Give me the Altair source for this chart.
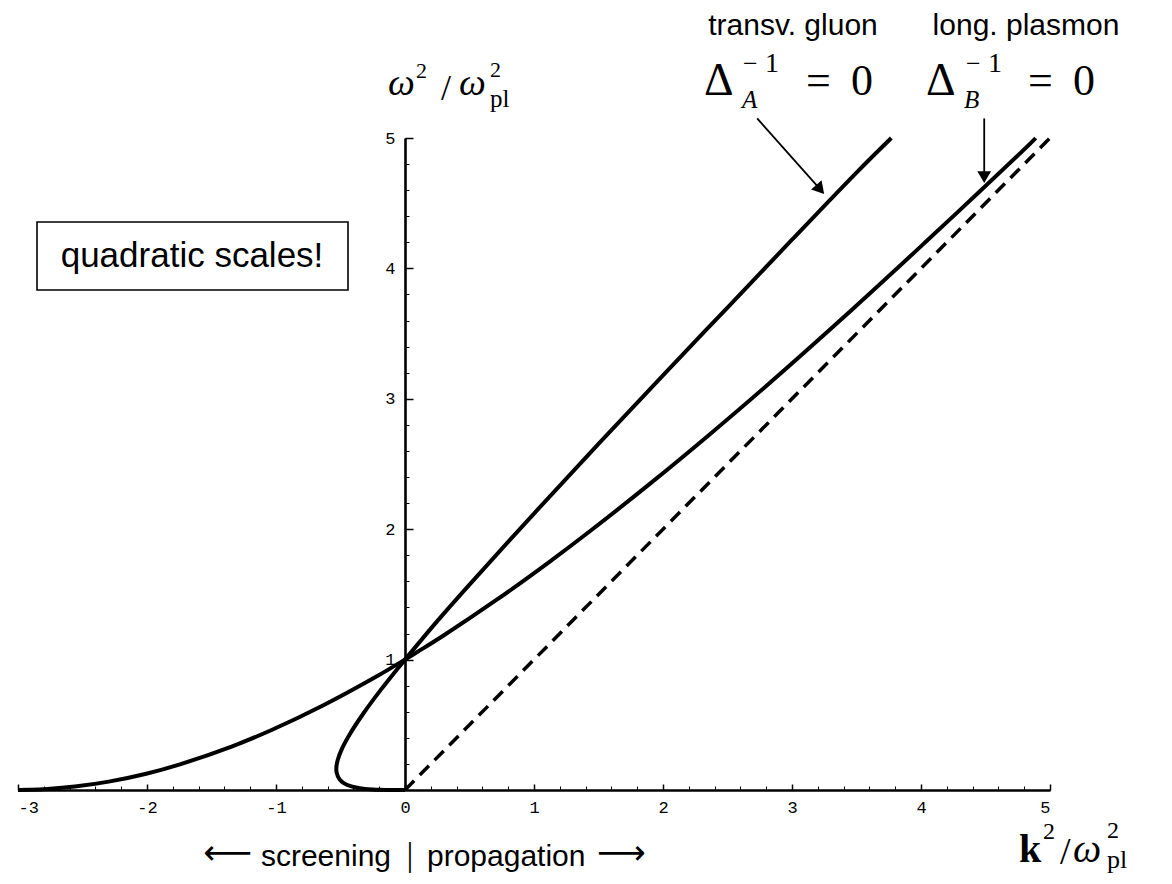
import altair as alt
import pandas as pd

# ---------------- data ----------------
# transverse gluon branch  (Delta_A^-1 = 0), in drawing order
trans_x = [0.0, -0.057, -0.110, -0.206, -0.248, -0.311, -0.354, -0.409, -0.475, -0.507,
           -0.530, -0.532, -0.521, -0.490, -0.428, -0.327, -0.191, -0.058, 0.0, 0.25,
           0.5, 1.0, 1.5, 2.0, 2.5, 3.0, 3.5, 3.77]
trans_y = [0.0, 0.0, 0.0003, 0.002, 0.0039, 0.0086, 0.0142, 0.0256, 0.053, 0.081,
           0.133, 0.174, 0.232, 0.314, 0.428, 0.581, 0.764, 0.930, 1.0, 1.295,
           1.575, 2.12, 2.655, 3.18, 3.70, 4.22, 4.735, 5.0]
# longitudinal plasmon branch (Delta_B^-1 = 0)
long_x = [-3.0, -2.907, -2.772, -2.559, -2.297, -2.006, -1.751, -1.339, -1.034, -0.644,
          -0.218, 0.0, 0.095, 0.296, 0.717, 1.120, 1.433, 1.907, 2.350, 2.785,
          3.471, 4.033, 4.440, 4.870, 4.889]
long_y = [0.0, 0.001, 0.007, 0.026, 0.064, 0.125, 0.195, 0.335, 0.460, 0.644,
          0.872, 1.0, 1.058, 1.183, 1.463, 1.750, 1.984, 2.355, 2.717, 3.085,
          3.689, 4.200, 4.576, 4.980, 5.0]
# light cone (dashed)
cone_x = [0.0, 5.0]
cone_y = [0.0, 5.0]

x_tick_values = [-3, -2, -1, 0, 1, 2, 3, 4, 5]
y_tick_values = [1, 2, 3, 4, 5]
x_minor_values = [round(-3 + 0.2 * i, 1) for i in range(41)]
y_minor_values = [round(0.2 * i, 1) for i in range(26)]

# annotation arrows (data coordinates): tail, head centre
arrowA_x = [2.73, 3.219]
arrowA_y = [5.15, 4.606]
arrowB_x = [4.49, 4.49]
arrowB_y = [5.15, 4.70]

# ---------------- layout ----------------
W, H = 1032, 652
X0, Y0 = 18, 138          # page position of the plot's top-left corner
ZX = 405 - X0             # pixel of x = 0 inside the plot

xs = alt.Scale(domain=[-3, 5], nice=False, zero=False)
ys = alt.Scale(domain=[0, 5], nice=False, zero=False)

def df_xy(xv, yv):
    return pd.DataFrame({"x": xv, "y": yv, "o": list(range(len(xv)))})

lab_x_axis = alt.Axis(orient="bottom", values=x_tick_values, domain=False, ticks=False,
                      tickSize=0, grid=False, title="", labelFont="Liberation Mono",
                      labelFontSize=17, labelColor="black", labelPadding=9,
                      labelExpr="datum.value < 0 ? '-' + abs(datum.value) : '' + datum.value")
lab_y_axis = alt.Axis(orient="left", offset=-ZX, values=y_tick_values, domain=False,
                      ticks=False, tickSize=0, grid=False, title="",
                      labelFont="Liberation Mono", labelFontSize=17, labelColor="black",
                      labelPadding=10)
maj_x_axis = alt.Axis(orient="top", offset=-H, values=x_tick_values, domain=True,
                      domainColor="black", domainWidth=2.6, ticks=True, tickSize=6,
                      tickWidth=1.5, tickColor="black", labels=False, grid=False, title="")
maj_y_axis = alt.Axis(orient="right", offset=ZX - W, values=y_tick_values, domain=True,
                      domainColor="black", domainWidth=2.6, ticks=True, tickSize=8,
                      tickWidth=1.5, tickColor="black", labels=False, grid=False, title="")
min_x_axis = alt.Axis(orient="top", offset=-H, values=x_minor_values, domain=False,
                      ticks=True, tickSize=4, tickWidth=1, tickColor="black",
                      labels=False, grid=False, title="")
min_y_axis = alt.Axis(orient="right", offset=ZX - W, values=y_minor_values, domain=False,
                      ticks=True, tickSize=4, tickWidth=1, tickColor="black",
                      labels=False, grid=False, title="")

cone = alt.Chart(df_xy(cone_x, cone_y)).mark_line(
    color="black", strokeWidth=3.5, strokeDash=[13, 8], clip=False
).encode(x=alt.X("x:Q", scale=xs, axis=lab_x_axis),
         y=alt.Y("y:Q", scale=ys, axis=lab_y_axis),
         order="o:Q")

trans = alt.Chart(df_xy(trans_x, trans_y)).mark_line(
    color="black", strokeWidth=4, interpolate="catmull-rom", clip=False
).encode(x=alt.X("x:Q", scale=xs, axis=maj_x_axis),
         y=alt.Y("y:Q", scale=ys, axis=maj_y_axis),
         order="o:Q")

longi = alt.Chart(df_xy(long_x, long_y)).mark_line(
    color="black", strokeWidth=4, interpolate="catmull-rom", clip=False
).encode(x=alt.X("x:Q", scale=xs, axis=min_x_axis),
         y=alt.Y("y:Q", scale=ys, axis=min_y_axis),
         order="o:Q")

def arrow(xv, yv, ang):
    shaft = alt.Chart(df_xy(xv, yv)).mark_line(color="black", strokeWidth=1.8, clip=False).encode(
        x=alt.X("x:Q", scale=xs, axis=None), y=alt.Y("y:Q", scale=ys, axis=None), order="o:Q")
    head = alt.Chart(df_xy(xv[-1:], yv[-1:])).mark_point(
        shape="triangle-down", filled=True, color="black", opacity=1, size=190,
        angle=ang, clip=False
    ).encode(x=alt.X("x:Q", scale=xs, axis=None), y=alt.Y("y:Q", scale=ys, axis=None))
    return [shaft, head]

def txt(s, px, py, size, font="Liberation Sans", style="normal", weight="normal",
        align="left", baseline="alphabetic"):
    return alt.Chart(pd.DataFrame({"t": [s]})).mark_text(
        align=align, baseline=baseline, font=font, fontSize=size, fontStyle=style,
        fontWeight=weight, color="black"
    ).encode(x=alt.value(px - X0), y=alt.value(py - Y0), text="t:N")

box = alt.Chart(pd.DataFrame({"a": [0]})).mark_rect(
    fill="white", stroke="black", strokeWidth=1.6
).encode(x=alt.value(37 - X0), x2=alt.value(348 - X0),
         y=alt.value(222 - Y0), y2=alt.value(290 - Y0))

serif = "Liberation Serif"
arrows_font = "DejaVu Sans"
texts = [
    box,
    txt("quadratic scales!", 192, 267, 35, align="center"),
    # y title  omega^2 / omega_pl^2
    txt("ω", 388, 95, 38, font=serif, style="italic"),
    txt("2", 416, 78, 22, font=serif),
    txt("/", 441, 100, 36, font=serif),
    txt("ω", 459, 95, 38, font=serif, style="italic"),
    txt("2", 490, 77, 22, font=serif),
    txt("pl", 490, 107, 25, font=serif),
    # x title  k^2 / omega_pl^2
    txt("k", 1019, 862, 40, font=serif, weight="bold"),
    txt("2", 1043, 839, 24, font=serif),
    txt("/", 1060, 864, 38, font=serif),
    txt("ω", 1073, 862, 40, font=serif, style="italic"),
    txt("2", 1107, 838, 24, font=serif),
    txt("pl", 1107, 868, 26, font=serif),
    # bottom caption
    txt("⟵", 252, 864, 34, font=arrows_font, align="right"),
    txt("screening", 391, 866, 30, align="right"),
    txt("|", 410, 866, 34, font=serif, align="center"),
    txt("propagation", 427, 866, 30),
    txt("⟶", 597, 864, 34, font=arrows_font),
    # top-right labels
    txt("transv. gluon", 793, 35, 30, align="center"),
    txt("long. plasmon", 1026, 35, 30, align="center"),
    # Delta_A^-1 = 0
    txt("Δ", 704, 95, 46, font=serif),
    txt("−", 743, 72, 26, font=serif),
    txt("1", 765, 72, 28, font=serif),
    txt("A", 742, 108, 25, font=serif, style="italic"),
    txt("=", 806, 95, 44, font=serif),
    txt("0", 851, 95, 44, font=serif),
    # Delta_B^-1 = 0
    txt("Δ", 926, 95, 46, font=serif),
    txt("−", 966, 72, 26, font=serif),
    txt("1", 988, 72, 28, font=serif),
    txt("B", 964, 108, 25, font=serif, style="italic"),
    txt("=", 1028, 95, 44, font=serif),
    txt("0", 1073, 95, 44, font=serif),
]

layers = [cone, trans, longi] + arrow(arrowA_x, arrowA_y, 319) + arrow(arrowB_x, arrowB_y, 0) + texts

chart = alt.layer(*layers).resolve_axis(
    x="independent", y="independent"
).properties(
    width=W, height=H,
    autosize=alt.AutoSizeParams(type="none"),
    padding={"left": 10, "top": 130, "right": 110, "bottom": 86},
    background="white",
).configure_view(strokeWidth=0)

chart.save("out.html", embed_options={"renderer": "svg", "actions": False})
